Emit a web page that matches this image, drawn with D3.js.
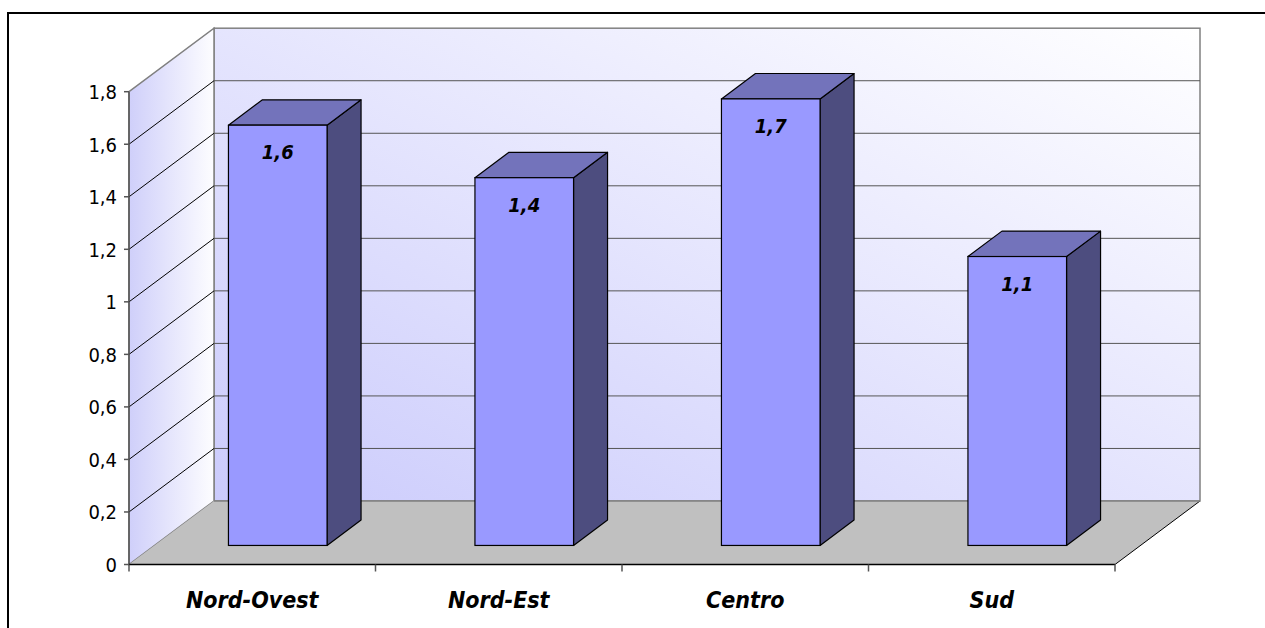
<!DOCTYPE html>
<html><head><meta charset="utf-8">
<script src="https://cdn.jsdelivr.net/npm/d3@7"></script>
<style>
html,body{margin:0;padding:0;background:#fff;}
svg{display:block;}
</style></head>
<body><svg id="c" width="1265" height="628"></svg>
<script>
const categories = ["Nord-Ovest", "Nord-Est", "Centro", "Sud"];
const values = [1.6, 1.4, 1.7, 1.1];
const valueLabels = ["1,6", "1,4", "1,7", "1,1"];
const yTicks = [0, 0.2, 0.4, 0.6, 0.8, 1, 1.2, 1.4, 1.6, 1.8];

const svg = d3.select("#c");
const DX = 85, DY = -63.5;           // depth offset of the 3D box
const y = d3.scaleLinear().domain([0, 1.8]).range([564.5, 91.7]);
const x = d3.scaleBand().domain(categories).range([129, 1115]).padding(0);
const fmt = d3.formatLocale({decimal: ",", thousands: ".", grouping: [3], currency: ["", ""]}).format("~g");

const defs = svg.append("defs");
const gSide = defs.append("linearGradient").attr("id", "gSide").attr("x1", 0).attr("y1", 0).attr("x2", 1).attr("y2", 0);
gSide.append("stop").attr("offset", 0).attr("stop-color", "#cfcffa");
gSide.append("stop").attr("offset", 1).attr("stop-color", "#fdfdff");
const gBack = defs.append("linearGradient").attr("id", "gBack").attr("x1", 0).attr("y1", 1).attr("x2", 1).attr("y2", 0);
gBack.append("stop").attr("offset", 0).attr("stop-color", "#cbcbfc");
gBack.append("stop").attr("offset", 1).attr("stop-color", "#ffffff");

// outer frame
svg.append("rect").attr("x", 8).attr("y", 13).attr("width", 1300).attr("height", 700)
  .attr("fill", "none").attr("stroke", "#000").attr("stroke-width", 2);

const x0 = x.range()[0], x1 = x.range()[1];
const y0 = y(0), yTop = y(1.8);

// back wall
svg.append("rect").attr("x", x0 + DX).attr("y", yTop + DY).attr("width", x1 - x0).attr("height", y0 - yTop)
  .attr("fill", "url(#gBack)").attr("stroke", "#808080").attr("stroke-width", 1.5);
// side wall
svg.append("path").attr("d", `M${x0},${y0}L${x0 + DX},${y0 + DY}L${x0 + DX},${yTop + DY}L${x0},${yTop}Z`)
  .attr("fill", "url(#gSide)").attr("stroke", "#808080").attr("stroke-width", 1.5);
// floor
svg.append("path").attr("d", `M${x0},${y0}L${x1},${y0}L${x1 + DX},${y0 + DY}L${x0 + DX},${y0 + DY}Z`)
  .attr("fill", "#c0c0c0").attr("stroke", "none");
svg.append("line").attr("x1", x1).attr("y1", y0).attr("x2", x1 + DX).attr("y2", y0 + DY).attr("stroke", "#000").attr("stroke-width", 1);
svg.append("line").attr("x1", x0 + DX).attr("y1", y0 + DY).attr("x2", x1 + DX).attr("y2", y0 + DY).attr("stroke", "#808080").attr("stroke-width", 1.5);

// gridlines (back wall + side wall diagonals)
const inner = yTicks.filter(t => t > 0 && t < 1.8);
svg.selectAll(".gb").data(inner).join("line")
  .attr("x1", x0 + DX).attr("x2", x1 + DX).attr("y1", d => y(d) + DY).attr("y2", d => y(d) + DY)
  .attr("stroke", "#555").attr("stroke-width", 1);
svg.selectAll(".gs").data(inner).join("line")
  .attr("x1", x0).attr("y1", d => y(d)).attr("x2", x0 + DX).attr("y2", d => y(d) + DY)
  .attr("stroke", "#000").attr("stroke-width", 1);

// bars
const bw = x.bandwidth() * 0.4;
const f0 = 0.3, f1 = 0.7;
const bars = svg.selectAll(".bar").data(categories.map((c, i) => ({c, v: values[i], l: valueLabels[i]}))).join("g");
bars.each(function(d) {
  const g = d3.select(this);
  const fx = x(d.c) + (x.bandwidth() - bw) / 2 + f0 * DX;
  const fyB = y(0) + f0 * DY, fyT = y(d.v) + f0 * DY;
  const ddx = (f1 - f0) * DX, ddy = (f1 - f0) * DY;
  g.append("path").attr("d", `M${fx + bw},${fyT}L${fx + bw + ddx},${fyT + ddy}L${fx + bw + ddx},${fyB + ddy}L${fx + bw},${fyB}Z`)
    .attr("fill", "#4d4d7f").attr("stroke", "#000").attr("stroke-width", 1.2).attr("stroke-linejoin", "round");
  g.append("path").attr("d", `M${fx},${fyT}L${fx + ddx},${fyT + ddy}L${fx + bw + ddx},${fyT + ddy}L${fx + bw},${fyT}Z`)
    .attr("fill", "#7373bb").attr("stroke", "#000").attr("stroke-width", 1.2).attr("stroke-linejoin", "round");
  g.append("rect").attr("x", fx).attr("y", fyT).attr("width", bw).attr("height", fyB - fyT)
    .attr("fill", "#9999ff").attr("stroke", "#000").attr("stroke-width", 1.2);
  g.append("text").attr("x", fx + bw / 2).attr("y", fyT + 34).attr("text-anchor", "middle")
    .attr("font-family", "'DejaVu Sans Condensed','DejaVu Sans',sans-serif").attr("font-stretch", "condensed")
    .attr("font-weight", "bold").attr("font-style", "italic").attr("font-size", 20).attr("fill", "#000").text(d.l);
});

// y axis
svg.append("line").attr("x1", x0).attr("x2", x0).attr("y1", y(0)).attr("y2", y(1.8)).attr("stroke", "#555").attr("stroke-width", 1.5);
svg.selectAll(".yt").data(yTicks).join("line")
  .attr("x1", x0 - 5).attr("x2", x0).attr("y1", d => y(d)).attr("y2", d => y(d)).attr("stroke", "#555").attr("stroke-width", 1.5);
svg.selectAll(".yl").data(yTicks).join("text")
  .attr("x", x0 - 12).attr("y", d => y(d) + 7.5).attr("text-anchor", "end")
  .attr("font-family", "'Liberation Sans Narrow','DejaVu Sans Condensed',sans-serif").attr("font-stretch", "condensed")
  .attr("font-size", 20).attr("fill", "#000").text(d => fmt(d));

// x axis
svg.append("line").attr("x1", x0).attr("x2", x1).attr("y1", y0).attr("y2", y0).attr("stroke", "#000").attr("stroke-width", 1.5);
const xt = categories.map(c => x(c)).concat([x1]);
svg.selectAll(".xt").data(xt).join("line")
  .attr("x1", d => d).attr("x2", d => d).attr("y1", y0).attr("y2", y0 + 7).attr("stroke", "#555").attr("stroke-width", 1.5);
svg.selectAll(".xl").data(categories).join("text")
  .attr("x", d => x(d) + x.bandwidth() / 2).attr("y", 608).attr("text-anchor", "middle")
  .attr("font-family", "'DejaVu Sans Condensed','DejaVu Sans',sans-serif").attr("font-stretch", "condensed")
  .attr("font-weight", "bold").attr("font-style", "italic").attr("font-size", 23).attr("fill", "#000").text(d => d);
</script></body></html>
